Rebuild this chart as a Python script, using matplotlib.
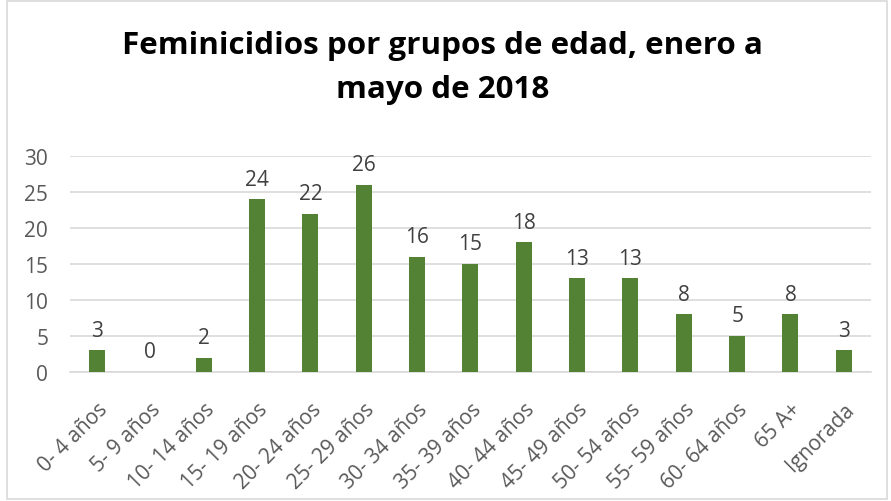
import matplotlib.pyplot as plt
from matplotlib.patches import Rectangle

#################   data   #################

grupos = ['0- 4 años', '5- 9 años', '10- 14 años', '15- 19 años', '20- 24 años',
          '25- 29 años', '30- 34 años', '35- 39 años', '40- 44 años', '45- 49 años',
          '50- 54 años', '55- 59 años', '60- 64 años', '65 A+', 'Ignorada']
casos = [3, 0, 2, 24, 22, 26, 16, 15, 18, 13, 13, 8, 5, 8, 3]

#################   plot   #################

plt.rcParams['font.family'] = ['Open Sans', 'DejaVu Sans']

fig = plt.figure(figsize=(8.91, 5.02), dpi=100)
ax = fig.add_axes([0.079, 0.257, 0.898, 0.43])

x = range(len(grupos))
bars = ax.bar(x, casos, width=0.3, color='#548235', zorder=3)

for xi, v in zip(x, casos):
    ax.annotate(str(v), (xi, v), xytext=(0, 7), textcoords='offset points',
                ha='center', va='bottom', fontsize=15, color='#404040')

ax.set_ylim(0, 30)
ax.set_xlim(-0.5, len(grupos) - 0.5)
ax.set_yticks(range(0, 31, 5))
ax.yaxis.grid(True, color='#d9d9d9', lw=1.2, zorder=0)
for s in ['top', 'right', 'left']:
    ax.spines[s].set_visible(False)
ax.spines['bottom'].set_color('#d9d9d9')
ax.spines['bottom'].set_linewidth(1.2)
ax.tick_params(axis='both', length=0, labelsize=15, labelcolor='#595959')
ax.tick_params(axis='y', pad=16)
ax.set_xticks(list(x))
ax.set_xticklabels(grupos, rotation=45, ha='right', rotation_mode='anchor')
ax.tick_params(axis='x', pad=19)

fig.text(0.497, 0.864, 'Feminicidios por grupos de edad, enero a\nmayo de 2018',
         ha='center', va='center', fontsize=22.6, fontweight='bold', color='black',
         linespacing=1.6)

# chart border
fig.patches.append(Rectangle((0.008, 0.004), 0.988, 0.992, transform=fig.transFigure,
                             fill=False, edgecolor='#d9d9d9', lw=1.2))

fig.savefig('out.png', dpi=100)
